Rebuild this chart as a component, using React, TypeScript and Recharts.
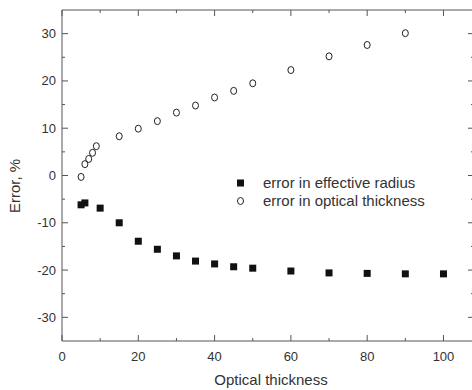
import React from "react";
import { ScatterChart, Scatter, XAxis, YAxis, Label } from "recharts";

// optical thickness values for each series
const radiusTau = [5, 6, 10, 15, 20, 25, 30, 35, 40, 45, 50, 60, 70, 80, 90, 100];
const radiusErr = [-6.2, -5.8, -6.9, -10.0, -13.9, -15.6, -17.0, -18.1, -18.7, -19.3, -19.6, -20.2, -20.6, -20.7, -20.8, -20.8];

const thickTau = [5, 6, 7, 8, 9, 15, 20, 25, 30, 35, 40, 45, 50, 60, 70, 80, 90];
const thickErr = [-0.3, 2.4, 3.5, 4.8, 6.2, 8.3, 9.9, 11.5, 13.3, 14.8, 16.5, 17.9, 19.5, 22.3, 25.2, 27.6, 30.1];

const xTicks = [0, 10, 20, 30, 40, 50, 60, 70, 80, 90, 100];
const xLabelled = [0, 20, 40, 60, 80, 100];
const yTicks = [-30, -25, -20, -15, -10, -5, 0, 5, 10, 15, 20, 25, 30];
const yLabelled = [-30, -20, -10, 0, 10, 20, 30];

const radiusData = radiusTau.map((t, i) => ({ tau: t, err: radiusErr[i] }));
const thickData = thickTau.map((t, i) => ({ tau: t, err: thickErr[i] }));

const AXIS = "#555";
const TEXT = "#333";
const FONT = "Liberation Sans, Arial, sans-serif";

const BottomTick = (props: any) => {
  const { x, y, payload } = props;
  const major = xLabelled.includes(payload.value);
  return (
    <g>
      <line x1={x} y1={y} x2={x} y2={y - (major ? 6 : 3)} stroke={AXIS} />
      {major && (
        <text x={x} y={y + 20} textAnchor="middle" fontSize={13} fill={TEXT} fontFamily={FONT}>
          {payload.value}
        </text>
      )}
    </g>
  );
};

const TopTick = (props: any) => {
  const { x, y, payload } = props;
  const major = xLabelled.includes(payload.value);
  return <line x1={x} y1={y} x2={x} y2={y + (major ? 6 : 3)} stroke={AXIS} />;
};

const LeftTick = (props: any) => {
  const { x, y, payload } = props;
  const major = yLabelled.includes(payload.value);
  return (
    <g>
      <line x1={x} y1={y} x2={x + (major ? 6 : 3)} y2={y} stroke={AXIS} />
      {major && (
        <text x={x - 6} y={y + 4.5} textAnchor="end" fontSize={13} fill={TEXT} fontFamily={FONT}>
          {payload.value}
        </text>
      )}
    </g>
  );
};

const RightTick = (props: any) => {
  const { x, y, payload } = props;
  const major = yLabelled.includes(payload.value);
  return <line x1={x} y1={y} x2={x - (major ? 6 : 3)} y2={y} stroke={AXIS} />;
};

const SquareMark = (props: any) => {
  const { cx, cy } = props;
  return <rect x={cx - 3.5} y={cy - 3.5} width={7} height={7} fill="#111" />;
};

const CircleMark = (props: any) => {
  const { cx, cy } = props;
  return <ellipse cx={cx} cy={cy} rx={3} ry={3.5} fill="none" stroke="#222" strokeWidth={1} />;
};

const NoMark = () => <g />;

const LegendBox = () => (
  <svg width={230} height={44} style={{ position: "absolute", left: 234, top: 170 }}>
    <rect x={3} y={9.5} width={7} height={7} fill="#111" />
    <text x={29} y={18} fontSize={15} fill={TEXT} fontFamily={FONT}>
      error in effective radius
    </text>
    <ellipse cx={6.5} cy={31} rx={3} ry={3.5} fill="none" stroke="#222" />
    <text x={29} y={36} fontSize={15} fill={TEXT} fontFamily={FONT}>
      error in optical thickness
    </text>
  </svg>
);

export default function App() {
  return (
    <div
      style={{
        position: "absolute",
        left: 0,
        top: 0,
        width: 472,
        height: 390,
        overflow: "hidden",
        background: "#fff",
      }}
    >
      <ScatterChart
        width={480}
        height={390}
        margin={{ top: 9, right: 5, bottom: 0, left: 0 }}
      >
        <XAxis
          xAxisId="b"
          dataKey="tau"
          type="number"
          domain={[0, 108]}
          ticks={xTicks}
          orientation="bottom"
          height={49}
          stroke={AXIS}
          tickLine={false}
          tickSize={0}
          tickMargin={0}
          tick={<BottomTick />}
          interval={0}
        >
          <Label
            content={() => (
              <text x={271} y={385} textAnchor="middle" fontSize={15} fill={TEXT} fontFamily={FONT}>
                Optical thickness
              </text>
            )}
          />
        </XAxis>
        <XAxis
          xAxisId="t"
          dataKey="tau"
          type="number"
          domain={[0, 108]}
          ticks={xTicks}
          orientation="top"
          height={1}
          stroke={AXIS}
          tickLine={false}
          tickSize={0}
          tickMargin={0}
          tick={<TopTick />}
          interval={0}
        />
        <YAxis
          yAxisId="l"
          dataKey="err"
          type="number"
          domain={[-35, 35]}
          ticks={yTicks}
          width={62}
          stroke={AXIS}
          tickLine={false}
          tickSize={0}
          tickMargin={0}
          tick={<LeftTick />}
          interval={0}
        >
          <Label
            content={() => (
              <text
                x={20}
                y={186}
                transform="rotate(-90 20 186)"
                textAnchor="middle"
                fontSize={15}
                fill={TEXT}
                fontFamily={FONT}
              >
                Error, %
              </text>
            )}
          />
        </YAxis>
        <YAxis
          yAxisId="r"
          dataKey="err"
          type="number"
          domain={[-35, 35]}
          ticks={yTicks}
          orientation="right"
          width={1}
          stroke={AXIS}
          tickLine={false}
          tickSize={0}
          tickMargin={0}
          tick={<RightTick />}
          interval={0}
        />
        {/* invisible series so the frame axes on top and right get drawn */}
        <Scatter
          data={radiusData}
          xAxisId="t"
          yAxisId="r"
          shape={<NoMark />}
          isAnimationActive={false}
        />
        <Scatter
          name="error in effective radius"
          data={radiusData}
          xAxisId="b"
          yAxisId="l"
          shape={<SquareMark />}
          isAnimationActive={false}
        />
        <Scatter
          name="error in optical thickness"
          data={thickData}
          xAxisId="b"
          yAxisId="l"
          shape={<CircleMark />}
          isAnimationActive={false}
        />
      </ScatterChart>
      <LegendBox />
    </div>
  );
}
